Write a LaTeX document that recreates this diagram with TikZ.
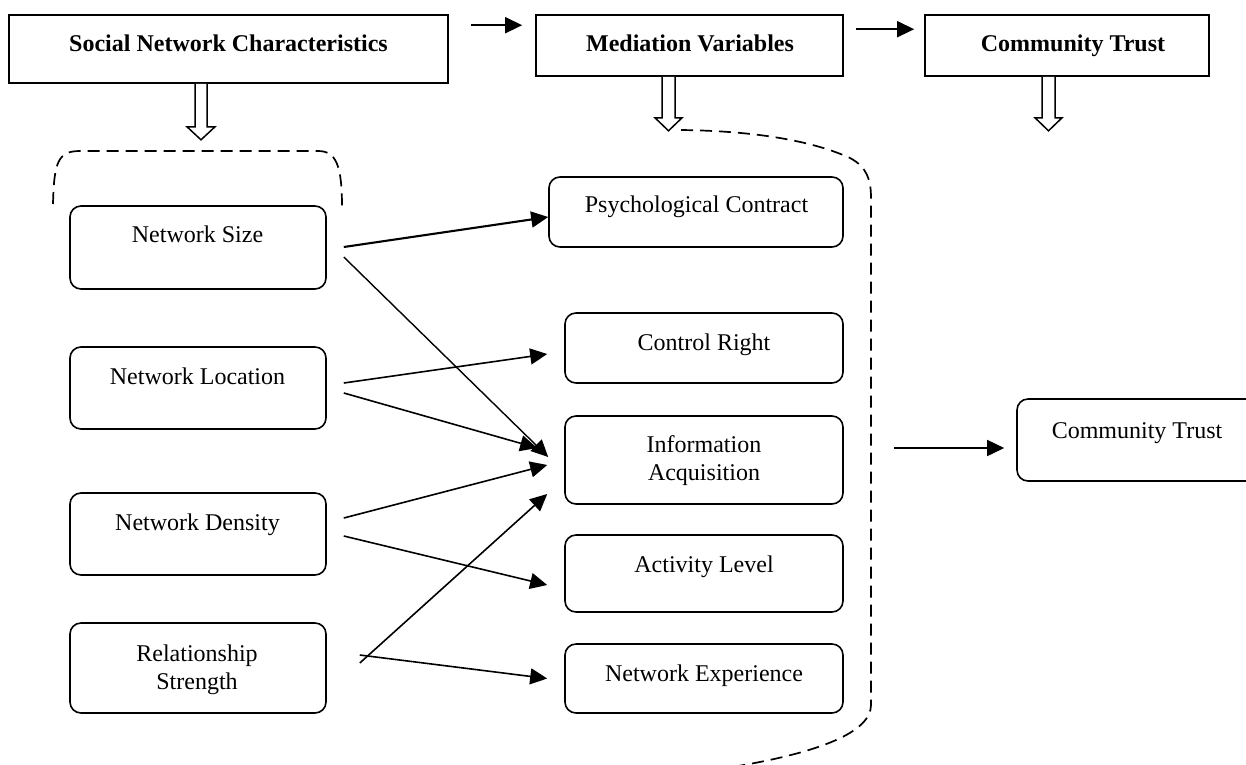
\documentclass[tikz,border=0pt]{standalone}
\usepackage{fontspec}
\setmainfont{Liberation Serif}
\usetikzlibrary{arrows.meta,calc}
\tikzset{
  box/.style={draw, line width=1.6pt, rectangle, inner sep=0pt},
  rbox/.style={draw, line width=1.6pt, rectangle, rounded corners=11pt, inner sep=0pt},
  txt/.style={font=\fontsize{24}{28}\selectfont, inner sep=0pt, align=center},
  btxt/.style={font=\fontsize{24}{28}\selectfont\bfseries, inner sep=0pt},
  arr/.style={line width=1.6pt, -{Triangle[length=17pt,width=16pt]}},
  hollow/.style={line width=1.5pt, fill=white},
  brace/.style={line width=1.7pt, dash pattern=on 12pt off 7pt}
}
\begin{document}
\begin{tikzpicture}[x=1pt,y=-1pt]
\fill[white] (0,0) rectangle (1246,764);
\useasboundingbox (0,0) rectangle (1246,764);

% top boxes
\node[box, minimum width=439, minimum height=68] (snc) at (228.5,49) {};
\node[box, minimum width=307, minimum height=61] (mv) at (689.5,45.5) {};
\node[box, minimum width=284, minimum height=61] (ct) at (1067,45.5) {};
\node[btxt, anchor=base] (snct) at (228.5,51) {Social Network Characteristics};
\node[btxt, anchor=base] (mvt) at (690,51) {Mediation Variables};
\node[btxt, anchor=base] (ctt) at (1073,51) {Community Trust};

% left column
\node[rbox, minimum width=256, minimum height=83] (ns) at (198,247.5) {};
\node[rbox, minimum width=256, minimum height=82] (nl) at (198,388) {};
\node[rbox, minimum width=256, minimum height=82] (nd) at (198,534) {};
\node[rbox, minimum width=256, minimum height=90] (rs) at (198,668) {};
\node[txt, anchor=base] (nst) at (197.5,242) {Network Size};
\node[txt, anchor=base] (nlt) at (197.5,384) {Network Location};
\node[txt, anchor=base] (ndt) at (197.5,530) {Network Density};
\node[txt] (rst) at (197,670) {Relationship\\Strength};

% middle column
\node[rbox, minimum width=294, minimum height=70] (pc) at (696,212) {};
\node[rbox, minimum width=278, minimum height=70] (cr) at (704,348) {};
\node[rbox, minimum width=278, minimum height=88] (ia) at (704,460) {};
\node[rbox, minimum width=278, minimum height=77] (al) at (704,573.5) {};
\node[rbox, minimum width=278, minimum height=69] (ne) at (704,678.5) {};
\node[txt, anchor=base] (pct) at (696.5,212) {Psychological Contract};
\node[txt, anchor=base] (crt) at (704,350) {Control Right};
\node[txt] (iat) at (704,461) {Information\\Acquisition};
\node[txt, anchor=base] (alt) at (704,572) {Activity Level};
\node[txt, anchor=base] (net) at (704,681) {Network Experience};

% right box
\node[rbox, minimum width=240, minimum height=82] (ct2) at (1137,440) {};
\node[txt, anchor=base] (ct2t) at (1137,438) {Community Trust};

% top arrows
\draw[arr] ($(snc.north east)+(22,11)$) -- ($(mv.north west)+(-13,11)$);
\draw[arr] ($(mv.north east)+(12,15)$) -- ($(ct.north west)+(-10,15)$);

% hollow arrows
\draw[hollow] ($(snc.south)+(-33.5,0)$) -- ++(0,43) -- ++(-8,0) -- ++(14,13) -- ++(14,-13) -- ++(-8,0) -- ++(0,-43);
\draw[hollow] ($(mv.south)+(-27.5,0)$) -- ++(0,41) -- ++(-7,0) -- ++(13.5,13) -- ++(13.5,-13) -- ++(-7,0) -- ++(0,-41);
\draw[hollow] ($(ct.south)+(-25,0)$) -- ++(0,41) -- ++(-7,0) -- ++(13.5,13) -- ++(13.5,-13) -- ++(-7,0) -- ++(0,-41);

% dashed braces
\draw[brace] (53,204) .. controls (54,162) and (58,151) .. (80,151) -- (318,151)
  .. controls (336,151) and (342,165) .. (342,207);
\draw[brace] (681,130) .. controls (760,131) and (815,142) .. (850,158)
  .. controls (867,167) and (871,180) .. (871,198) -- (871,705)
  .. controls (871,732) and (820,752) .. (738,766);

% connectors
\draw[arr, line width=2.1pt] ($(ns.east)+(17,-0.5)$) -- ($(pc.west)+(0,5)$);
\draw[arr, line width=1.4pt] ($(ns.east)+(17,9.5)$) -- ($(ia.west)+(-16,-3)$);
\draw[arr] ($(nl.east)+(17,-5)$) -- ($(cr.west)+(-17,6)$);
\draw[arr] ($(nl.east)+(17,5)$) -- ($(ia.west)+(-27,-12)$);
\draw[arr] ($(nd.east)+(17,-16)$) -- ($(ia.west)+(-17,5)$);
\draw[arr] ($(nd.east)+(17,2)$) -- ($(al.west)+(-17,11.5)$);
\draw[arr] ($(rs.east)+(33,-5)$) -- ($(ia.west)+(-17,34)$);
\draw[arr] ($(rs.east)+(33,-13)$) -- ($(ne.west)+(-17,0)$);
\draw[arr] ($(ct2.west)+(-122,8)$) -- ($(ct2.west)+(-12,8)$);
\end{tikzpicture}
\end{document}
